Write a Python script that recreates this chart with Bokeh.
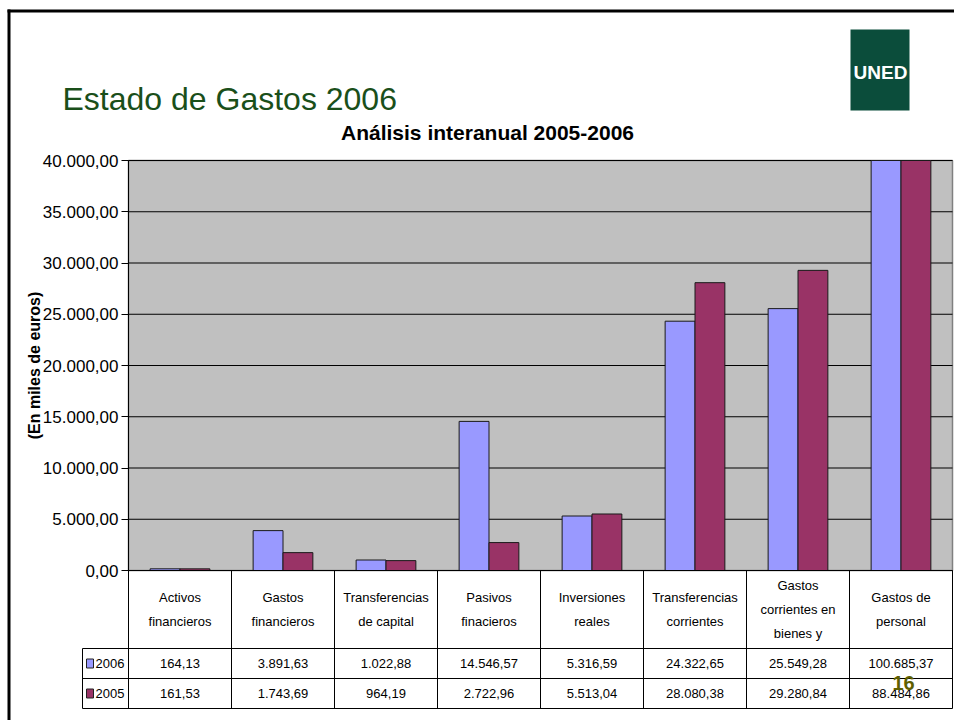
from bokeh.plotting import figure
from bokeh.models import Range1d, FixedTicker, LinearAxis, ColumnDataSource
from bokeh.core.properties import value
from bokeh.embed import file_html
from bokeh.resources import INLINE

# ---------------- data ----------------
categories = ["Activos\nfinancieros", "Gastos\nfinancieros", "Transferencias\nde capital",
              "Pasivos\nfinacieros", "Inversiones\nreales", "Transferencias\ncorrientes",
              "Gastos\ncorrientes en\nbienes y", "Gastos de\npersonal"]
series_names = ["2006", "2005"]
values_2006 = [164.13, 3891.63, 1022.88, 14546.57, 5316.59, 24322.65, 25549.28, 100685.37]
values_2005 = [161.53, 1743.69, 964.19, 2722.96, 5513.04, 28080.38, 29280.84, 88484.86]
y_ticks = [0, 5000, 10000, 15000, 20000, 25000, 30000, 35000, 40000]
y_tick_labels = ["0,00", "5.000,00", "10.000,00", "15.000,00", "20.000,00",
                 "25.000,00", "30.000,00", "35.000,00", "40.000,00"]
slide_title = "Estado de Gastos 2006"
chart_title = "Análisis interanual 2005-2006"
y_label = "(En miles de euros)"
page_number = "16"
logo_text = "UNED"

# ---------------- style / layout ----------------
C2006 = "#9999FF"
C2005 = "#993366"
SANS = value("Liberation Sans")
W, H = 954, 720
PL, PR, PT, PB = 128, 952, 160, 570          # plot area on the slide
HEAD_B, ROW1_B, ROW2_B = 648, 678, 708       # table row bottoms
LEG_L = 82

n = len(categories)
cw = (PR - PL) / n
y_min, y_max = y_ticks[0], y_ticks[-1]
k = (y_max - y_min) / (PB - PT)


def es(v):
    s = f"{v:,.2f}"
    return s.replace(",", "X").replace(".", ",").replace("X", ".")


p = figure(width=W, height=H, x_range=Range1d(0, W), y_range=Range1d(H, 0),
           x_axis_location=None, y_axis_location=None,
           output_backend="svg", toolbar_location=None, min_border=0,
           background_fill_color="white", border_fill_color="white",
           outline_line_color=None)
p.grid.visible = False
p.extra_x_ranges = {"cat": Range1d(-PL / cw, (W - PL) / cw)}
p.extra_y_ranges = {"val": Range1d(y_min - (H - PB) * k, y_max + PT * k)}

# slide border
p.quad(left=[7, 7], right=[W, 10], top=[9, 9], bottom=[12, H], fill_color="black", line_color=None)

# slide title and logo
p.text(x=[62], y=[98], text=[slide_title], text_font=SANS, text_font_size="32px",
       text_color="#1A4F1A", text_align="left", text_baseline="middle")
p.quad(left=[850], right=[909], top=[29], bottom=[110], fill_color="#0B4D3B", line_color=None)
p.text(x=[880], y=[72], text=[logo_text], text_font=SANS, text_font_size="19px",
       text_font_style="bold", text_color="white", text_align="center", text_baseline="middle")

# chart title
p.text(x=[487], y=[132], text=[chart_title], text_font=SANS, text_font_size="21px",
       text_font_style="bold", text_color="black", text_align="center", text_baseline="middle")

# plot area background and grid
p.quad(left=[0], right=[n], bottom=[y_min], top=[y_max], x_range_name="cat", y_range_name="val",
       fill_color="#C0C0C0", line_color="#808080", line_width=1.5)
p.segment(x0=[0] * len(y_ticks), x1=[n] * len(y_ticks), y0=y_ticks, y1=y_ticks,
          x_range_name="cat", y_range_name="val", line_color="black", line_width=1)

# bars (clipped at the axis maximum like the original chart)
bw = 0.29
xs = [i + 0.5 for i in range(n)]
src = ColumnDataSource(dict(
    x06=[x - bw / 2 for x in xs], x05=[x + bw / 2 for x in xs],
    t06=[min(v, y_max) for v in values_2006], t05=[min(v, y_max) for v in values_2005]))
p.vbar(x="x06", top="t06", bottom=y_min, width=bw, source=src, x_range_name="cat", y_range_name="val",
       fill_color=C2006, line_color="#1a1a1a", line_width=1)
p.vbar(x="x05", top="t05", bottom=y_min, width=bw, source=src, x_range_name="cat", y_range_name="val",
       fill_color=C2005, line_color="#1a1a1a", line_width=1)

# y axis
yax = LinearAxis(y_range_name="val", fixed_location=PL, bounds=(y_min, y_max),
                 ticker=FixedTicker(ticks=y_ticks),
                 major_label_overrides={t: l for t, l in zip(y_ticks, y_tick_labels)},
                 axis_label=y_label)
yax.major_label_text_font = "Liberation Sans"
yax.major_label_text_font_size = "17px"
yax.major_label_text_color = "black"
yax.major_tick_out = 7
yax.major_tick_in = 0
yax.minor_tick_line_color = None
yax.axis_line_color = "black"
yax.major_tick_line_color = "black"
yax.major_label_standoff = 3
yax.axis_label_text_font = "Liberation Sans"
yax.axis_label_text_font_size = "16px"
yax.axis_label_text_font_style = "bold"
yax.axis_label_text_color = "black"
yax.axis_label_standoff = -3
p.add_layout(yax, "left")

# data table
bounds_x = [PL + i * cw for i in range(n + 1)]
p.segment(x0=bounds_x, x1=bounds_x, y0=[PB] * (n + 1), y1=[ROW2_B] * (n + 1),
          line_color="black", line_width=1)
p.segment(x0=[PL, LEG_L, LEG_L, LEG_L, LEG_L], x1=[PR, PR, PR, PR, LEG_L],
          y0=[PB, HEAD_B, ROW1_B, ROW2_B, HEAD_B], y1=[PB, HEAD_B, ROW1_B, ROW2_B, ROW2_B],
          line_color="black", line_width=1)
centers = [PL + (i + 0.5) * cw for i in range(n)]
p.text(x=centers, y=[(PB + HEAD_B) / 2] * n, text=categories, text_font=SANS,
       text_font_size="13px", text_line_height=1.6, text_color="black",
       text_align="center", text_baseline="middle")
row_mid = [(HEAD_B + ROW1_B) / 2, (ROW1_B + ROW2_B) / 2]
for vals, ym in zip([values_2006, values_2005], row_mid):
    p.text(x=centers, y=[ym] * n, text=[es(v) for v in vals], text_font=SANS,
           text_font_size="13px", text_color="black", text_align="center", text_baseline="middle")
p.quad(left=[86, 86], right=[93, 93], top=[m - 4.5 for m in row_mid], bottom=[m + 4.5 for m in row_mid],
       fill_color=[C2006, C2005], line_color="#222222", line_width=1)
p.text(x=[95, 95], y=row_mid, text=series_names, text_font=SANS, text_font_size="13px",
       text_color="black", text_align="left", text_baseline="middle")

# page number
p.text(x=[903], y=[682], text=[page_number], text_font=SANS, text_font_size="20px",
       text_font_style="bold", text_color="#5F5F00", text_align="center", text_baseline="middle")

open("out.html", "w").write(file_html(p, INLINE))
